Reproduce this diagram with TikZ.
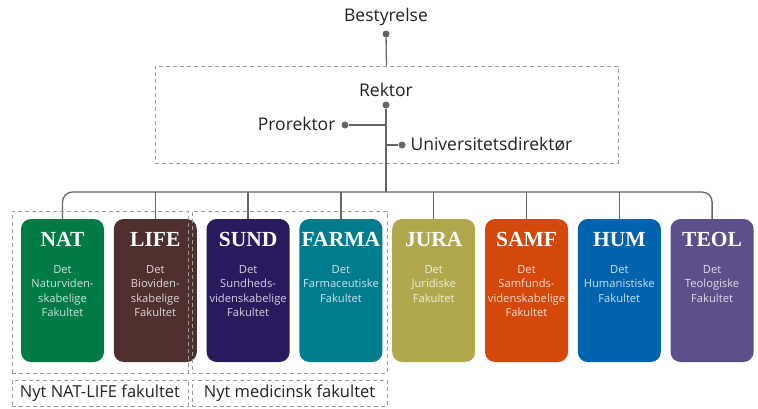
\documentclass[tikz,border=0pt]{standalone}
\usepackage{fontspec}
\setmainfont{Open Sans}
\newfontfamily\titlefont{Liberation Serif}
\usetikzlibrary{positioning}

\definecolor{linegray}{HTML}{666666}
\definecolor{dashgray}{HTML}{9A9A9A}
\definecolor{txtgray}{HTML}{222222}
\definecolor{natgreen}{HTML}{007B46}
\definecolor{lifebrown}{HTML}{4F302E}
\definecolor{sundblue}{HTML}{291A5E}
\definecolor{farmateal}{HTML}{007C8F}
\definecolor{juraolive}{HTML}{B1A84D}
\definecolor{samforange}{HTML}{D4480A}
\definecolor{humblue}{HTML}{0063AE}
\definecolor{teolpurple}{HTML}{5D4F89}

\begin{document}
\begin{tikzpicture}[x=1pt, y=-1pt,
  conn/.style={draw=linegray, line width=1.3pt},
  dot/.style={circle, fill=linegray, inner sep=0pt, minimum size=7pt},
  grp/.style={draw=dashgray, line width=0.9pt, dash pattern=on 4pt off 3pt, inner sep=0pt},
  lead/.style={text=txtgray, font=\fontsize{17.5}{19}\selectfont},
  grplabel/.style={text=txtgray, font=\fontsize{16.5}{18}\selectfont},
  fac/.style={rounded corners=10pt, minimum width=83pt, minimum height=143pt, inner sep=0pt},
  factitle/.style={text=white, font=\titlefont\bfseries\fontsize{21.5}{21.5}\selectfont},
  facsub/.style={align=center, inner sep=0pt, font=\fontsize{11.2}{14.5}\selectfont}]
  \useasboundingbox (0,0) rectangle (758,408);

  % Board
  \node[lead] (best) at (386,17) {Bestyrelse};
  \node[dot] (bestdot) at (386,34) {};

  % Management box
  \node[grp, minimum width=463pt, minimum height=97pt] (ledelse) at (386.5,114.5) {};
  \draw[conn] (bestdot) -- (ledelse.north);

  \node[lead] (rektor) at (386,90) {Rektor};
  \node[dot] (rekdot) at (386,105) {};
  \node[dot] (prodot) at (345,125) {};
  \node[lead, anchor=east] (prorektor) at (339,124) {Prorektor};
  \node[dot] (unidot) at (402,145) {};
  \node[lead, anchor=west] (unidir) at (407,144) {Universitetsdirektør};
  \coordinate (bus) at (386,192);

  \draw[conn] (rekdot) -- (bus);
  \draw[conn] (prodot) -- (prodot -| rekdot);
  \draw[conn] (unidot) -- (unidot -| rekdot);

  % Faculties
  \foreach \n/\c/\t/\s [count=\i from 0] in {
      nat/natgreen/NAT/{Det\\Naturviden-\\skabelige\\Fakultet},
      life/lifebrown/LIFE/{Det\\Bioviden-\\skabelige\\Fakultet},
      sund/sundblue/SUND/{Det\\Sundheds-\\videnskabelige\\Fakultet},
      farma/farmateal/FARMA/{Det\\Farmaceutiske\\Fakultet},
      jura/juraolive/JURA/{Det\\Juridiske\\Fakultet},
      samf/samforange/SAMF/{Det\\Samfunds-\\videnskabelige\\Fakultet},
      hum/humblue/HUM/{Det\\Humanistiske\\Fakultet},
      teol/teolpurple/TEOL/{Det\\Teologiske\\Fakultet}} {
    \node[fac, fill=\c] (\n) at ({62.5+92.8*\i},290.5) {};
    \node[factitle] (\n-t) at ([yshift=-21pt]\n.north) {\t};
    \node[facsub, text=white!80!\c, anchor=north] (\n-s) at ([yshift=-46pt]\n.north) {\s};
  }

  % Connectors to faculties
  \draw[conn, rounded corners=10pt] (nat.north) |- (bus) -| (teol.north);
  \foreach \n in {life,sund,farma,jura,samf,hum}
    \draw[conn] (\n.north) -- (\n.north |- bus);

  % New faculty groups
  \node[grp, minimum width=176pt, minimum height=162pt] (natlife) at (100,292) {};
  \node[grp, minimum width=195pt, minimum height=162pt] (medicin) at (289.5,292) {};
  \node[grp, grplabel, minimum width=176pt, minimum height=26pt] (natlife-l) at (100,393) {Nyt NAT-LIFE fakultet};
  \node[grp, grplabel, minimum width=195pt, minimum height=26pt] (medicin-l) at (289.5,393) {Nyt medicinsk fakultet};
\end{tikzpicture}
\end{document}
